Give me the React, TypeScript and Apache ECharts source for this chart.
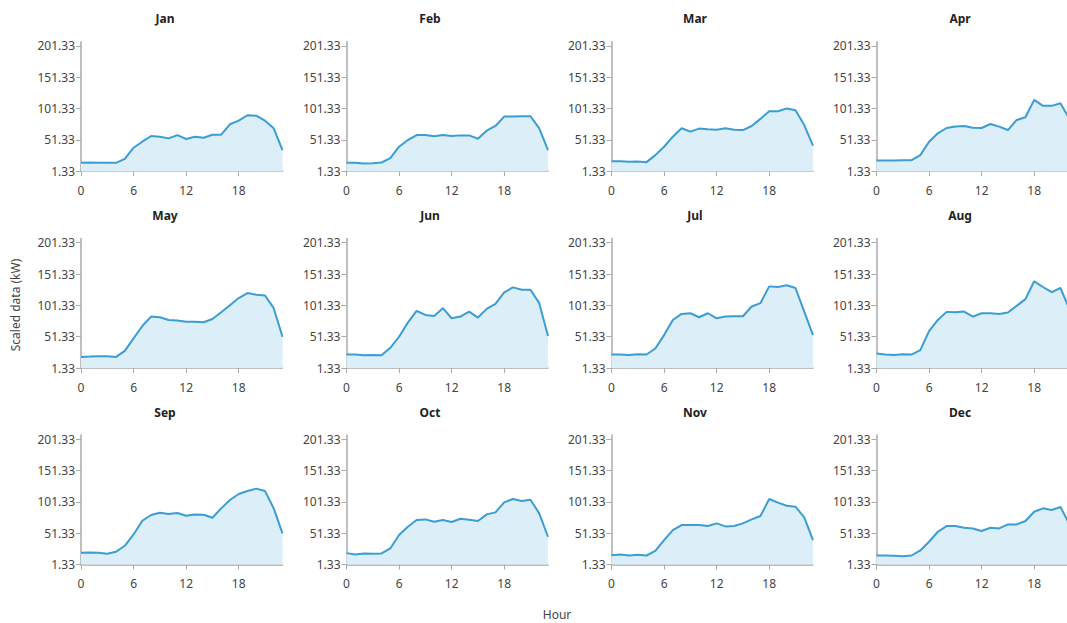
import React, { useEffect, useRef } from "react";
import * as echarts from "echarts";

const months = ["Jan", "Feb", "Mar", "Apr", "May", "Jun", "Jul", "Aug", "Sep", "Oct", "Nov", "Dec"];
const hours = [0, 1, 2, 3, 4, 5, 6, 7, 8, 9, 10, 11, 12, 13, 14, 15, 16, 17, 18, 19, 20, 21, 22, 23];
const xTicks = [0, 6, 12, 18];
const yTicks = [1.33, 51.33, 101.33, 151.33, 201.33];

const jan = [14.7, 15.2, 15, 14.7, 14.7, 21, 38.8, 48.4, 57.5, 56.4, 53.7, 59, 52.7, 56.4, 54.8, 59.6, 59.6, 76.2, 82, 90.6, 90, 82, 69.8, 35];
const feb = [14.7, 14.7, 13.6, 14.2, 15.2, 22.2, 40.4, 51, 59, 59, 57, 59, 57.5, 58.5, 58.5, 53.2, 66, 73.5, 88.5, 88.5, 89, 89, 69.8, 35];
const mar = [17.4, 17.4, 16.3, 16.8, 15.8, 27, 40.4, 56.4, 69.8, 64.4, 69.3, 68.2, 67.6, 69.8, 67.6, 67, 73.5, 84.8, 97, 97, 101.3, 98.6, 75, 42];
const apr = [18.4, 18.4, 18.4, 19, 19, 27, 48.4, 61.8, 70.3, 72.5, 73.5, 70.8, 70.3, 76.7, 72.5, 67, 83.1, 87.4, 115.2, 105.6, 105.6, 109.9, 85, 48];
const may = [19, 19.5, 20.1, 20.1, 19, 28.7, 48.5, 68.4, 83.4, 82.3, 78, 77, 75.3, 75.3, 74.3, 79.6, 90.3, 101.6, 112.9, 120.9, 118.2, 117.1, 96.8, 51.2];
const jun = [22.8, 22.8, 21.7, 22.2, 21.7, 33.5, 51.2, 73.7, 92.5, 86, 84.4, 96.8, 80.7, 83.4, 91.4, 81.8, 95.7, 103.7, 122, 130, 126.3, 126.3, 104.8, 52.3];
const jul = [22.8, 22.8, 22.2, 23.3, 22.8, 32.4, 53.8, 78, 87.6, 88.7, 82.3, 88.7, 80.7, 83.4, 83.9, 83.9, 99.5, 104.8, 131.6, 130.6, 133.3, 129, 91.4, 53.8];
const aug = [24.4, 22.8, 22.2, 23.3, 22.8, 29.8, 60.3, 78, 90.9, 90.3, 91.4, 83.4, 88.7, 88.7, 87.6, 89.8, 100.5, 111.3, 139.7, 130.6, 122.5, 129, 96, 55];
const sep = [20, 20.5, 20, 18.4, 21.6, 31.2, 49.3, 71.2, 80.3, 84, 81.9, 83.5, 79.2, 81.3, 80.8, 76, 90.9, 104.3, 113.9, 118.7, 122.4, 118.7, 90.9, 50.9];
const oct = [19.5, 17.3, 18.9, 18.4, 18.9, 26.9, 48.3, 61.6, 72.3, 73.3, 69.6, 72.3, 69.1, 74.4, 72.8, 70.7, 81.3, 84.5, 100.5, 105.9, 102.7, 104.8, 82.9, 45.6];
const nov = [16.2, 17.3, 15.7, 16.8, 15.7, 23.2, 40.2, 56.2, 64.3, 64.3, 64.3, 62.7, 66.9, 62.1, 62.7, 66.9, 73.3, 78.7, 105.9, 100, 95.2, 93.6, 76.5, 40.2];
const dec = [15.7, 15.7, 15.2, 14.6, 15.7, 23.7, 37.6, 53.6, 62.7, 62.7, 60, 58.9, 54.7, 60, 58.9, 65.3, 65.3, 70.7, 85.6, 91, 88.3, 93.1, 66, 40];

const monthData = [jan, feb, mar, apr, may, jun, jul, aug, sep, oct, nov, dec];

const FONT = "'Segoe UI', 'Noto Sans', sans-serif";

export default function App() {
  const ref = useRef<HTMLDivElement>(null);
  useEffect(() => {
    if (!ref.current) return;
    const chart = echarts.init(ref.current, undefined, { renderer: "svg" });
    const colLeft = [81, 346.5, 611.5, 876.5];
    const titleX = [160, 425, 690, 955];
    const rowTop = [41.7, 238.5, 435];
    const gw = 201.5;
    const gh = 129.5;
    const grids: any[] = [];
    const xAxes: any[] = [];
    const yAxes: any[] = [];
    const series: any[] = [];
    const titles: any[] = [];
    monthData.forEach((vals, i) => {
      const c = i % 4;
      const r = Math.floor(i / 4);
      grids.push({ left: colLeft[c], top: rowTop[r], width: gw, height: gh, containLabel: false });
      titles.push({
        text: months[i],
        left: titleX[c],
        top: rowTop[r] - 34,
        textAlign: "center",
        textStyle: { fontSize: 12, fontWeight: "bold", color: "#222", fontFamily: FONT },
      });
      xAxes.push({
        type: "value",
        gridIndex: i,
        min: 0,
        max: 23,
        interval: 6,
        axisLine: { lineStyle: { color: "#aaaaaa", width: 1.5 } },
        axisTick: { customValues: xTicks, length: 5, lineStyle: { color: "#aaaaaa" } },
        axisLabel: { customValues: xTicks, color: "#444", fontSize: 12, fontFamily: FONT, margin: 13 },
        splitLine: { show: false },
      });
      yAxes.push({
        type: "value",
        gridIndex: i,
        min: 1.33,
        max: 208,
        axisLine: { show: true, lineStyle: { color: "#aaaaaa", width: 1.5 } },
        axisTick: { show: true, customValues: yTicks, length: 5, lineStyle: { color: "#aaaaaa" } },
        axisLabel: {
          customValues: yTicks,
          color: "#444",
          fontSize: 12,
          fontFamily: FONT,
          margin: 6,
          formatter: (v: number) => v.toFixed(2),
        },
        splitLine: { show: false },
      });
      series.push({
        type: "line",
        xAxisIndex: i,
        yAxisIndex: i,
        data: hours.map((h, k) => [h, vals[k]]),
        symbol: "none",
        lineStyle: { color: "#3a9dd3", width: 2 },
        itemStyle: { color: "#3a9dd3" },
        areaStyle: { color: "#dceef8", opacity: 1 },
      });
    });
    chart.setOption({
      animation: false,
      backgroundColor: "#ffffff",
      title: titles,
      grid: grids,
      xAxis: xAxes,
      yAxis: yAxes,
      series,
      graphic: [
        {
          type: "text",
          x: 15,
          y: 305,
          rotation: Math.PI / 2,
          style: {
            text: "Scaled data (kW)",
            fontSize: 12,
            fontFamily: FONT,
            fill: "#444",
            align: "center",
            verticalAlign: "middle",
          },
        },
        {
          type: "text",
          x: 557,
          y: 614,
          style: {
            text: "Hour",
            fontSize: 12,
            fontFamily: FONT,
            fill: "#444",
            align: "center",
            verticalAlign: "middle",
          },
        },
      ],
    });
    return () => chart.dispose();
  }, []);
  return (
    <div style={{ position: "absolute", left: 0, top: 0, width: 1067, height: 623, overflow: "hidden" }}>
      <div ref={ref} style={{ width: 1090, height: 623 }} />
    </div>
  );
}
